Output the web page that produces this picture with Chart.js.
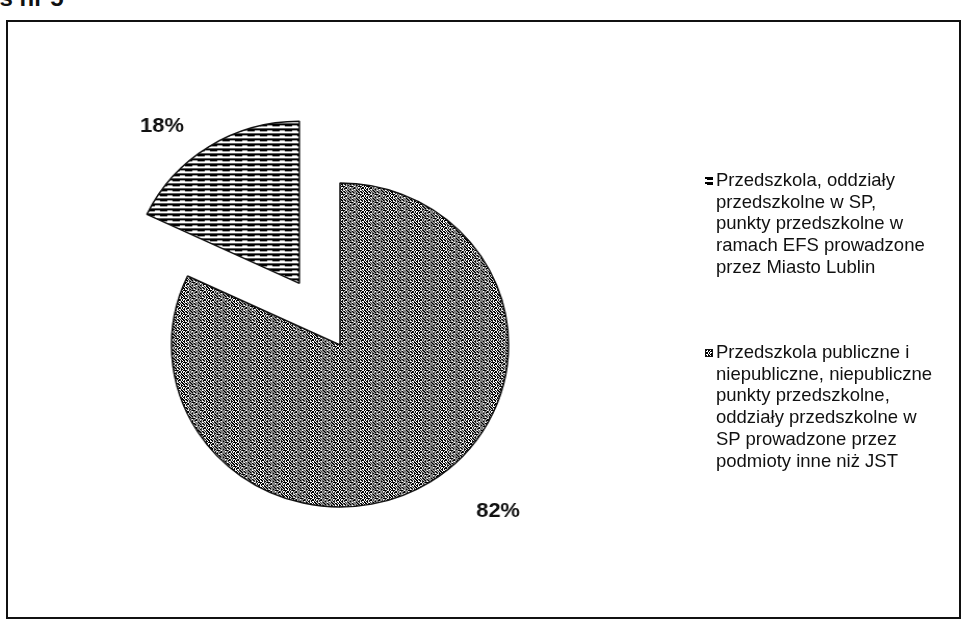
<!DOCTYPE html>
<html>
<head>
<meta charset="utf-8">
<script src="https://cdn.jsdelivr.net/npm/chart.js@4.4.1/dist/chart.umd.min.js"></script>
<style>
  html, body { margin: 0; padding: 0; background: #fff; }
  body { width: 962px; height: 622px; position: relative; overflow: hidden; font-family: "Liberation Sans", Arial, sans-serif; color: #111; }
  #title { position: absolute; top: -14px; left: -72px; font-size: 24px; line-height: 24px; font-weight: bold; white-space: nowrap; }
  #frame { position: absolute; left: 6px; top: 20px; width: 955px; height: 599px; box-sizing: border-box; border: 2px solid #111; }
  /* the scanned original is a touch wider than tall */
  #chart { position: absolute; left: 0; top: 0; transform: scaleX(1.04); transform-origin: 340px 0; }
  .legend-item { position: absolute; left: 716px; font-size: 18.5px; line-height: 21.7px; white-space: nowrap; }
  .legend-item canvas { position: absolute; left: -11px; top: 8px; }
</style>
</head>
<body>
<div id="title">Wykres nr 5</div>
<div id="frame"></div>
<canvas id="chart" width="962" height="622"></canvas>
<div id="legend"></div>
<script>
  // --- data ---
  const categories = [
    'Przedszkola, oddziały przedszkolne w SP, punkty przedszkolne w ramach EFS prowadzone przez Miasto Lublin',
    'Przedszkola publiczne i niepubliczne, niepubliczne punkty przedszkolne, oddziały przedszkolne w SP prowadzone przez podmioty inne niż JST',
  ];
  const shares = [18, 82];
  const legendLines = [
    ['Przedszkola, oddziały', 'przedszkolne w SP,', 'punkty przedszkolne w', 'ramach EFS prowadzone', 'przez Miasto Lublin'],
    ['Przedszkola publiczne i', 'niepubliczne, niepubliczne', 'punkty przedszkolne,', 'oddziały przedszkolne w', 'SP prowadzone przez', 'podmioty inne niż JST'],
  ];

  // --- fill patterns (scanned hatch look) ---
  function stripePattern(ctx) {
    const c = document.createElement('canvas');
    c.width = 12; c.height = 5;
    const g = c.getContext('2d');
    g.fillStyle = '#fff'; g.fillRect(0, 0, 12, 5);
    g.fillStyle = '#000'; g.fillRect(0, 0, 12, 2);
    g.fillRect(2, 2, 7, 1);
    return ctx.createPattern(c, 'repeat');
  }

  function grainPattern(ctx) {
    const rows = [
      'XX.X.XX.',
      '.X.XX.X.',
      'X..X.XXX',
      '.XX.X..X',
      'XXX.X.X.',
      'X..X.XX.',
      '.X.XX.X.',
      'X.X.XX.X',
    ];
    const c = document.createElement('canvas');
    c.width = 8; c.height = 8;
    const g = c.getContext('2d');
    g.fillStyle = '#fff'; g.fillRect(0, 0, 8, 8);
    g.fillStyle = '#000';
    rows.forEach((r, y) => r.split('').forEach((ch, x) => { if (ch === 'X') g.fillRect(x, y, 1, 1); }));
    return ctx.createPattern(c, 'repeat');
  }

  const canvas = document.getElementById('chart');
  const ctx = canvas.getContext('2d');
  const fills = [stripePattern(ctx), grainPattern(ctx)];

  // exploded slices + outside percentage labels
  const explode = {
    id: 'explode',
    beforeDatasetDraw(chart, args, opts) {
      const c = chart.ctx;
      args.meta.data.forEach((arc, i) => {
        const mid = (arc.startAngle + arc.endAngle) / 2;
        const d = opts.distance[i] || 0;
        c.save();
        c.translate(Math.cos(mid) * d, Math.sin(mid) * d);
        arc.draw(c);
        c.restore();
      });
      return false;
    },
    afterDatasetsDraw(chart, args, opts) {
      const c = chart.ctx;
      const meta = chart.getDatasetMeta(0);
      c.save();
      c.font = 'bold 21px "Liberation Sans", Arial, sans-serif';
      c.fillStyle = '#111';
      c.textAlign = 'center';
      c.textBaseline = 'middle';
      meta.data.forEach((arc, i) => {
        const mid = (arc.startAngle + arc.endAngle) / 2;
        const d = opts.distance[i] || 0;
        const x = arc.x + Math.cos(mid) * d + opts.labelShift[i][0];
        const y = arc.y + Math.sin(mid) * d + opts.labelShift[i][1];
        c.fillText(shares[i] + '%', x, y);
      });
      c.restore();
    },
  };

  new Chart(canvas, {
    type: 'pie',
    data: {
      labels: categories,
      datasets: [{
        data: shares,
        backgroundColor: fills,
        borderColor: '#111',
        borderWidth: 1.5,
      }],
    },
    options: {
      responsive: false,
      animation: false,
      events: [],
      rotation: -shares[0] * 3.6,
      radius: 162,
      layout: { padding: { left: 0, right: 282, top: 68, bottom: 0 } },
      plugins: {
        legend: { display: false },
        tooltip: { enabled: false },
        explode: { distance: [73, 0], labelShift: [[-132, -157], [152, 166]] },
      },
    },
    plugins: [explode],
  });

  // --- legend (html, wrapped like the original) ---
  const legendTops = [169, 341];
  const legend = document.getElementById('legend');
  legendLines.forEach((lines, i) => {
    const item = document.createElement('div');
    item.className = 'legend-item';
    item.style.top = legendTops[i] + 'px';
    item.innerHTML = lines.join('<br>');
    const sw = document.createElement('canvas');
    sw.width = 8; sw.height = 8;
    const g = sw.getContext('2d');
    g.fillStyle = fills[i];
    g.fillRect(0, 0, 8, 8);
    if (i === 1) { g.strokeStyle = '#111'; g.lineWidth = 1; g.strokeRect(0.5, 0.5, 7, 7); }
    item.appendChild(sw);
    legend.appendChild(item);
  });
</script>
</body>
</html>
